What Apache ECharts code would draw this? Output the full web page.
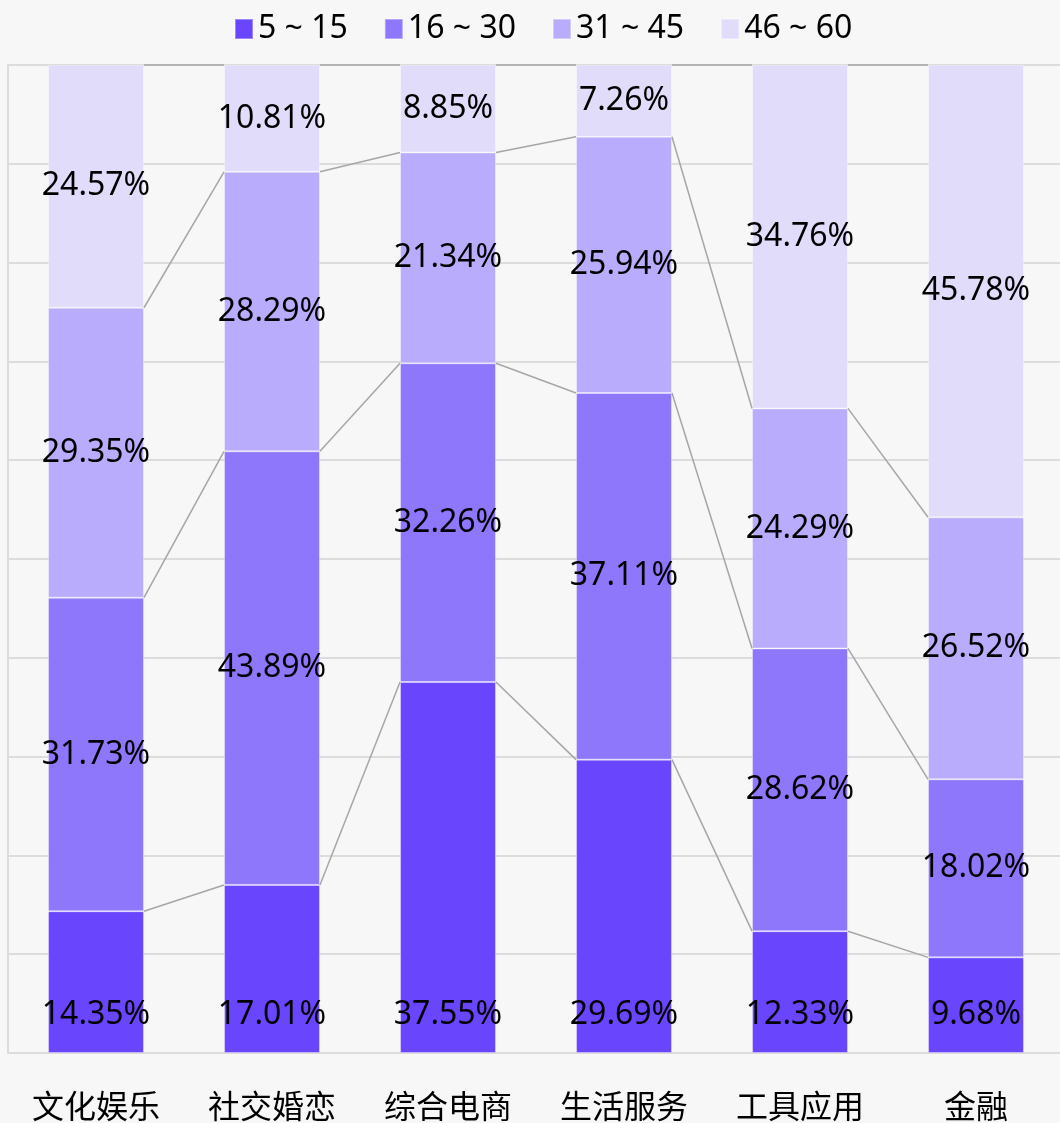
<!DOCTYPE html>
<html>
<head>
<meta charset="utf-8">
<script src="https://cdn.jsdelivr.net/npm/echarts@6/dist/echarts.min.js"></script>
<style>
html,body{margin:0;padding:0;background:#f7f7f7;}
#main{width:1060px;height:1123px;}
</style>
</head>
<body>
<div id="main"></div>
<script>
const categories = ['文化娱乐', '社交婚恋', '综合电商', '生活服务', '工具应用', '金融'];
const seriesNames = ['5 ~ 15', '16 ~ 30', '31 ~ 45', '46 ~ 60'];
const age5to15 = [14.35, 17.01, 37.55, 29.69, 12.33, 9.68];
const age16to30 = [31.73, 43.89, 32.26, 37.11, 28.62, 18.02];
const age31to45 = [29.35, 28.29, 21.34, 25.94, 24.29, 26.52];
const age46to60 = [24.57, 10.81, 8.85, 7.26, 34.76, 45.78];
const colors = ['#6a45fe', '#8f77fc', '#baacfc', '#e0dcf9'];

const seriesData = [age5to15, age16to30, age31to45, age46to60];
const FONT = "'Noto Sans', 'Noto Sans CJK SC', sans-serif";
const BAR_RATIO = 0.545;

// cumulative tops per category
const cumulative = categories.map((c, i) => {
  let s = 0;
  return seriesData.map(arr => { s += arr[i]; return +s.toFixed(2); });
});

const barSeries = seriesData.map((arr, k) => ({
  name: seriesNames[k],
  type: 'bar',
  stack: 'total',
  barWidth: (BAR_RATIO * 100) + '%',
  data: arr,
  itemStyle: { color: colors[k], borderColor: 'rgba(255,255,255,0.35)', borderWidth: 1 },
  label: {
    show: true,
    position: k === 0 ? 'insideBottom' : 'inside',
    distance: 22,
    formatter: '{c}%',
    color: '#000',
    fontSize: 32,
    fontFamily: FONT
  },
  z: 2
}));

const connector = {
  type: 'custom',
  silent: true,
  z: 3,
  data: categories.slice(0, -1).map((c, i) => [i]),
  renderItem: function (params, api) {
    const i = api.value(0);
    const band = api.size([1, 0])[0];
    const half = band * BAR_RATIO / 2;
    const children = cumulative[i].map((v, k) => {
      const p1 = api.coord([i, v]);
      const p2 = api.coord([i + 1, cumulative[i + 1][k]]);
      return {
        type: 'line',
        shape: { x1: p1[0] + half, y1: p1[1], x2: p2[0] - half, y2: p2[1] },
        style: { stroke: '#a6a6a6', lineWidth: 1.5 }
      };
    });
    return { type: 'group', children: children };
  }
};

const chart = echarts.init(document.getElementById('main'));
chart.setOption({
  backgroundColor: '#f7f7f7',
  animation: false,
  legend: {
    top: 8,
    left: 229,
    icon: 'rect',
    itemWidth: 18,
    itemHeight: 20,
    itemGap: 36,
    data: seriesNames,
    textStyle: { fontSize: 32, color: '#000', fontFamily: FONT }
  },
  grid: { left: 8, right: -4, top: 65, bottom: 70, containLabel: false, outerBoundsMode: 'none' },
  xAxis: {
    type: 'category',
    data: categories,
    axisLine: { show: true, lineStyle: { color: '#dcdcdc', width: 2 } },
    axisTick: { show: false },
    axisLabel: { fontSize: 32, color: '#000', margin: 40, fontFamily: FONT }
  },
  yAxis: {
    type: 'value',
    min: 0,
    max: 100,
    interval: 10,
    axisLine: { show: true, lineStyle: { color: '#dcdcdc', width: 2 } },
    axisTick: { show: false },
    axisLabel: { show: false },
    splitLine: { show: true, lineStyle: { color: '#dcdcdc', width: 2 } }
  },
  series: barSeries.concat([connector])
});
</script>
</body>
</html>
